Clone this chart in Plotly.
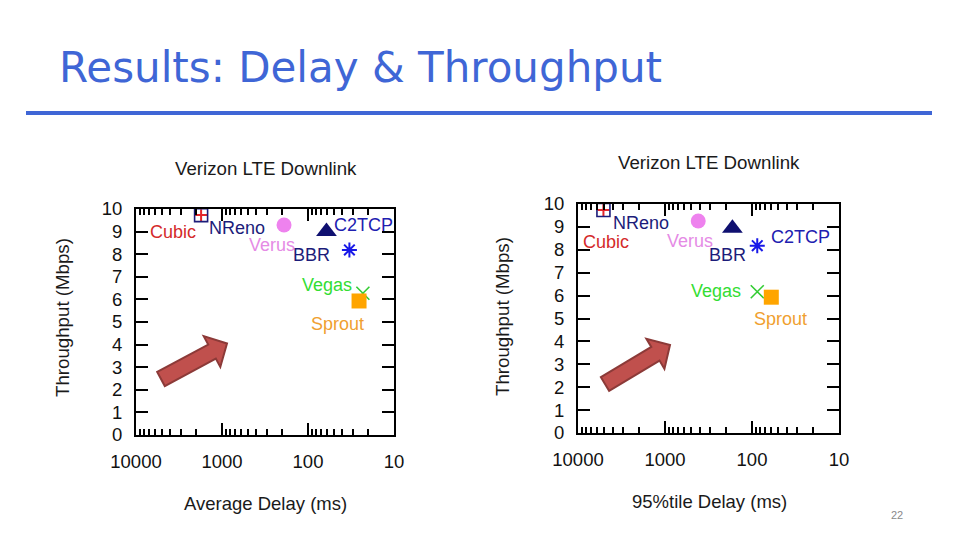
import numpy as np
import plotly.graph_objects as go

# ---------------- data ----------------
ALGS = ["Cubic", "NReno", "Verus", "BBR", "C2TCP", "Vegas", "Sprout"]
AVG_DELAY = [1750, 1750, 190, 61, 33, 23, 25.5]
AVG_TPUT = [9.73, 9.73, 9.29, 9.0, 8.19, 6.27, 5.93]
P95_DELAY = [5100, 5100, 415, 168, 87, 87, 60]
P95_TPUT = [9.74, 9.74, 9.26, 8.94, 8.18, 6.17, 5.93]
X_TICKS = [10000, 1000, 100, 10]
X_TICK_TEXT = ["10000", "1000", "100", "10"]
Y_TICKS = list(range(0, 11))

TITLE = "Results: Delay & Throughput"
SUB_TITLE = "Verizon LTE Downlink"
X_TITLES = ["Average Delay (ms)", "95%tile Delay (ms)"]
Y_TITLE = "Throughput (Mbps)"

# ---------------- styles ----------------
W, H = 960, 540
FONT = "Liberation Sans, Arial, sans-serif"
STYLE = {
    "Cubic": dict(symbol="cross-thin-open", size=8.5, color="#E3262B", lw=2),
    "NReno": dict(symbol="square-open", size=13, color="#1C1C7A", lw=1.6),
    "Verus": dict(symbol="circle", size=15, color="#EE82EE", lw=0),
    "BBR": dict(symbol="triangle-up", size=18, color="#0F1070", lw=0),
    "C2TCP": dict(symbol="asterisk-open", size=12.5, color="#1818E8", lw=2),
    "Vegas": dict(symbol="x-thin-open", size=13, color="#33CC33", lw=1.6),
    "Sprout": dict(symbol="square", size=15, color="#FFA500", lw=0),
}
LABEL_COLOR = {"Cubic": "#D42A2A", "NReno": "#1C1C7A", "Verus": "#E58BE5",
               "BBR": "#1C1C7A", "C2TCP": "#2020B0", "Vegas": "#33DD33",
               "Sprout": "#F0A030"}
# label pixel offsets from marker (xshift, yshift)
SHIFT_L = {"Cubic": (-28, -17), "NReno": (36, -13), "Verus": (-12, -20),
           "BBR": (-15, -23), "C2TCP": (14, 25), "Vegas": (-36, 8),
           "Sprout": (-22, -23)}
SHIFT_R = {"Cubic": (3, -32), "NReno": (38, -13), "Verus": (-8, -20),
           "BBR": (-5, -27), "C2TCP": (43, 9), "Vegas": (-41, 1),
           "Sprout": (9, -22)}

# plot frames in pixels (left, top, right, bottom)
FRAMES = [(136, 209, 394, 435), (578, 204, 839, 433)]


def px(x):
    return x / W


def py(y):
    return 1 - y / H


fig = go.Figure()

minor_vals = [m * 10 ** e for e in range(1, 4) for m in range(2, 10)]

for i, (delays, tputs, shifts) in enumerate(
        [(AVG_DELAY, AVG_TPUT, SHIFT_L), (P95_DELAY, P95_TPUT, SHIFT_R)]):
    xa = "x" if i == 0 else "x2"
    ya = "y" if i == 0 else "y2"
    for k, alg in enumerate(ALGS):
        s = STYLE[alg]
        fig.add_trace(go.Scatter(
            x=[delays[k]], y=[tputs[k]], mode="markers", name=alg,
            xaxis=xa, yaxis=ya, showlegend=False,
            marker=dict(symbol=s["symbol"], size=s["size"], color=s["color"],
                        line=dict(width=s["lw"], color=s["color"])),
        ))
        dx, dy = shifts[alg]
        fig.add_annotation(
            x=np.log10(delays[k]), y=tputs[k], xref=xa, yref=ya,
            text=alg, showarrow=False, xshift=dx, yshift=dy,
            xanchor="center", yanchor="middle",
            font=dict(family=FONT, size=18, color=LABEL_COLOR[alg]),
        )

axis_common = dict(showgrid=False, zeroline=False, showline=True,
                   linecolor="black", linewidth=2, mirror="ticks",
                   ticks="inside", tickcolor="black", automargin=False,
                   tickfont=dict(family=FONT, size=18.5, color="#111"))

layout_axes = {}
for i, (l, t, r, b) in enumerate(FRAMES):
    sx = "" if i == 0 else "2"
    layout_axes["xaxis" + sx] = dict(
        axis_common, type="log", range=[4, 1], domain=[px(l), px(r)],
        anchor="y" + sx, tickmode="array", tickvals=X_TICKS,
        ticktext=X_TICK_TEXT, ticklen=12, tickwidth=1.5,
        ticklabelstandoff=9,
        minor=dict(tickmode="array", tickvals=minor_vals, ticks="inside",
                   ticklen=6, tickwidth=1.5, tickcolor="black",
                   showgrid=False),
    )
    layout_axes["yaxis" + sx] = dict(
        axis_common, range=[0, 10], domain=[py(b), py(t)],
        anchor="x" + sx, tickmode="array", tickvals=Y_TICKS,
        ticklen=12, tickwidth=2, ticklabelstandoff=8,
    )

fig.update_layout(
    template="none",
    width=W, height=H, margin=dict(l=0, r=0, t=0, b=0, pad=0),
    paper_bgcolor="white", plot_bgcolor="white", showlegend=False,
    **layout_axes,
)


def paper_text(x, y, text, size, color, family=FONT, anchor="center",
               angle=0):
    fig.add_annotation(x=px(x), y=py(y), xref="paper", yref="paper",
                       text=text, showarrow=False, xanchor=anchor,
                       yanchor="middle", textangle=angle,
                       font=dict(family=family, size=size, color=color))


# slide title and rule
paper_text(57, 68, TITLE, 42, "#3F66D6", family="DejaVu Sans", anchor="left")
fig.add_shape(type="line", xref="paper", yref="paper",
              x0=px(26), x1=px(932), y0=py(113), y1=py(113),
              line=dict(color="#3F66D6", width=4))
paper_text(897, 515, "22", 11, "#8A8A8A")

# subplot titles and axis titles
sub_pos = [(266, 168), (709, 163)]
xt_pos = [(265, 503), (709, 501)]
yt_pos = [(62, 318), (502, 317)]
for i in range(2):
    paper_text(*sub_pos[i], SUB_TITLE, 18.7, "#1a1a1a")
    paper_text(*xt_pos[i], X_TITLES[i], 18.5, "#1a1a1a")
    paper_text(*yt_pos[i], Y_TITLE, 18.7, "#1a1a1a", angle=-90)


# block arrows (decoration)
def arrow_path(tail, tip, sw=8.0, hw=17.5, hl=17.0):
    tail = np.array(tail, float)
    tip = np.array(tip, float)
    d = tip - tail
    u = d / np.linalg.norm(d)
    n = np.array([u[1], -u[0]])
    base = tip - u * hl
    pts = [tail + n * sw, base + n * sw, base + n * hw, tip,
           base - n * hw, base - n * sw, tail - n * sw]
    return "M " + " L ".join(f"{px(p[0]):.5f},{py(p[1]):.5f}" for p in pts) + " Z"


for tail, tip in [((161, 379), (227, 343.5)), ((605, 384), (670, 345))]:
    fig.add_shape(type="path", xref="paper", yref="paper",
                  path=arrow_path(tail, tip),
                  fillcolor="#C0504D", line=dict(color="#8C3A38", width=2))

fig.write_html("out.html", config={"displayModeBar": False},
               post_script="document.body.style.margin='0';"
                           "document.body.style.overflow='hidden';")
